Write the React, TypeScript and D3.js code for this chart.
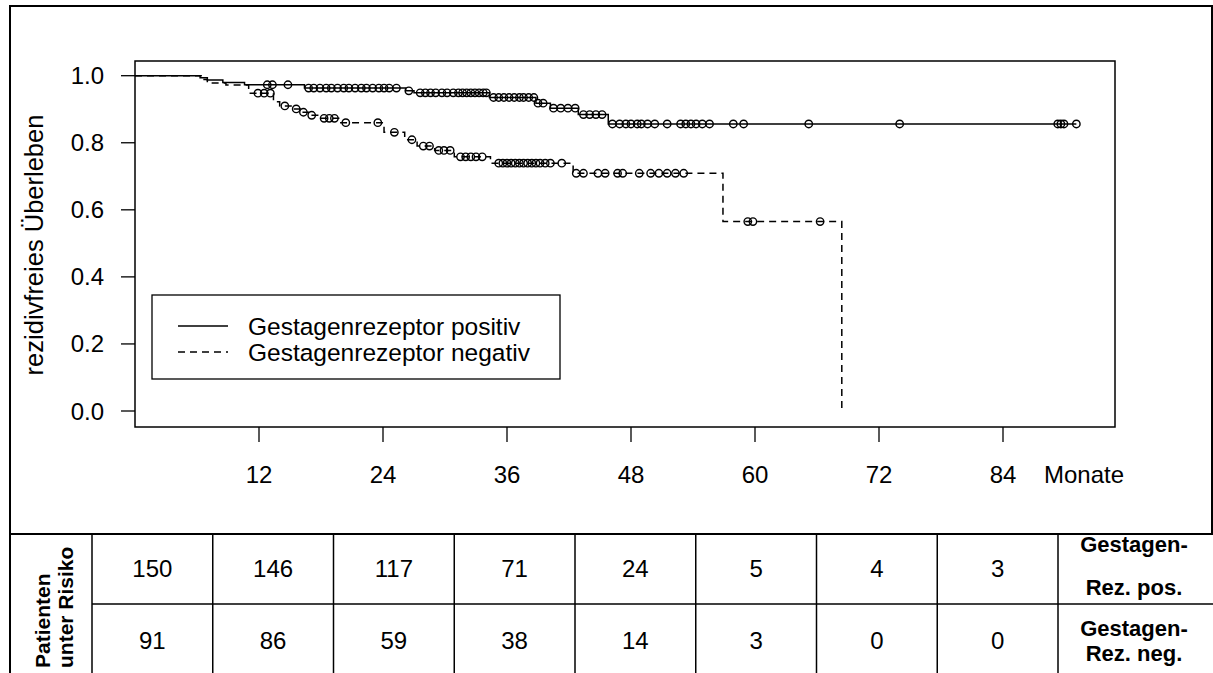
import React from 'react';
import * as d3 from 'd3';

// Kaplan-Meier steps: [months, survival after event]
const posEvents: [number, number][] = [
  [6.3, 0.994], [7.0, 0.987], [8.5, 0.98], [10.6, 0.973], [16.4, 0.963], [26.2, 0.955],
  [27.0, 0.949], [34.3, 0.935], [38.8, 0.918], [40.2, 0.903], [42.9, 0.884], [45.8, 0.856],
];
const posEnd = 91.1;
const posCensored = [
  12.8, 13.3, 14.8, 16.8, 17.3, 17.9, 18.5, 19.0, 19.6, 20.2, 20.7, 21.3, 21.9, 22.4, 23.0,
  23.6, 24.1, 24.6, 25.3, 26.5, 27.6, 28.1, 28.6, 29.1, 29.7, 30.2, 30.8, 31.3, 31.7, 32.1,
  32.5, 32.9, 33.3, 33.7, 34.0, 34.7, 35.2, 35.7, 36.2, 36.7, 37.2, 37.6, 38.1, 38.6, 39.0,
  39.5, 40.5, 41.2, 41.9, 42.6, 43.4, 44.0, 44.6, 45.2, 46.2, 46.9, 47.5, 48.0, 48.6, 49.0,
  49.6, 50.3, 51.5, 52.8, 53.3, 53.8, 54.3, 54.9, 55.6, 57.9, 58.9, 65.2, 74.0, 89.3, 89.6,
  89.9, 91.1,
];

const negEvents: [number, number][] = [
  [6.4, 0.989], [7.0, 0.978], [8.8, 0.972], [11.0, 0.948], [13.4, 0.922], [14.0, 0.91],
  [15.3, 0.901], [16.0, 0.891], [16.8, 0.882], [17.8, 0.873], [19.8, 0.86], [24.1, 0.831],
  [26.1, 0.809], [27.3, 0.79], [29.0, 0.777], [30.9, 0.758], [34.4, 0.739], [42.4, 0.709],
  [56.9, 0.565], [68.4, 0],
];
const negEnd = 68.4;
const negCensored = [
  11.9, 12.5, 13.1, 14.5, 15.6, 16.3, 17.1, 18.3, 18.8, 19.3, 20.4, 23.5, 25.1, 26.8, 27.9,
  28.5, 29.4, 29.9, 30.5, 31.5, 32.0, 32.5, 33.0, 33.6, 35.2, 35.6, 36.0, 36.4, 36.8, 37.2,
  37.6, 38.0, 38.4, 38.8, 39.2, 39.7, 40.2, 41.3, 42.7, 43.4, 44.8, 45.5, 46.7, 47.2, 48.8,
  49.9, 50.7, 51.5, 52.3, 53.1, 59.3, 59.8, 66.3,
];

const xTicks = [12, 24, 36, 48, 60, 72, 84];
const yTicks = [0, 0.2, 0.4, 0.6, 0.8, 1.0];
const atRiskPos = ['150', '146', '117', '71', '24', '5', '4', '3'];
const atRiskNeg = ['91', '86', '59', '38', '14', '3', '0', '0'];
const legendLabels = ['Gestagenrezeptor positiv', 'Gestagenrezeptor negativ'];

const FONT = '"Liberation Sans", Arial, sans-serif';

const survivalAt = (events: [number, number][], t: number) => {
  let s = 1;
  for (const [et, es] of events) if (et <= t) s = es;
  return s;
};

const App: React.FC = () => {
  const width = 1213;
  const height = 673;
  const box = { left: 135, top: 61, right: 1115, bottom: 427 };

  const x = d3.scaleLinear().domain([0, 12]).range([box.left, 259]);
  const y = d3.scaleLinear().domain([0, 1]).range([411, 75.7]);

  const line = d3.line<[number, number]>()
    .x(d => x(d[0]))
    .y(d => y(d[1]))
    .curve(d3.curveStepAfter);

  const posPts: [number, number][] = [[0, 1], ...posEvents, [posEnd, posEvents[posEvents.length - 1][1]]];
  const negPts: [number, number][] = [[0, 1], ...negEvents, [negEnd, 0]];

  // table columns
  const colLeft = 92;
  const colRight = 1058;
  const cols = d3.range(9).map(i => colLeft + (i * (colRight - colLeft)) / 8);
  const tTop = 534;
  const tMid = 604;

  return (
    <svg width={width} height={height} style={{ position: 'absolute', left: 0, top: 0, background: '#fff' }}
      fontFamily={FONT}>
      {/* outer frame */}
      <rect x={10} y={6} width={1202} height={528} fill="none" stroke="#000" strokeWidth={2} />

      {/* plot box */}
      <rect x={box.left} y={box.top} width={box.right - box.left} height={box.bottom - box.top}
        fill="none" stroke="#000" strokeWidth={1.5} />

      {/* y axis */}
      {yTicks.map(t => (
        <g key={t}>
          <line x1={box.left} x2={box.left - 14} y1={y(t)} y2={y(t)} stroke="#000" strokeWidth={1.3} />
          <text x={104} y={y(t) + 8.5} fontSize={24} textAnchor="end">{t.toFixed(1)}</text>
        </g>
      ))}
      <text transform="translate(43,245) rotate(-90)" fontSize={25.5} textAnchor="middle">rezidivfreies Überleben</text>

      {/* x axis */}
      {xTicks.map(t => (
        <g key={t}>
          <line x1={x(t)} x2={x(t)} y1={box.bottom} y2={box.bottom + 15} stroke="#000" strokeWidth={1.3} />
          <text x={x(t)} y={483} fontSize={24} textAnchor="middle">{t}</text>
        </g>
      ))}
      <text x={1044} y={483} fontSize={24}>Monate</text>

      {/* curves */}
      <path d={line(posPts) || ''} fill="none" stroke="#000" strokeWidth={1.5} />
      <path d={line(negPts) || ''} fill="none" stroke="#000" strokeWidth={1.5} strokeDasharray="7,5" />

      {posCensored.map((t, i) => (
        <circle key={'p' + i} cx={x(t)} cy={y(survivalAt(posEvents, t))} r={3.7}
          fill="none" stroke="#000" strokeWidth={1.4} />
      ))}
      {negCensored.map((t, i) => (
        <circle key={'n' + i} cx={x(t)} cy={y(survivalAt(negEvents, t))} r={3.7}
          fill="none" stroke="#000" strokeWidth={1.4} />
      ))}

      {/* legend */}
      <rect x={152} y={295} width={408} height={84} fill="#fff" stroke="#000" strokeWidth={1.3} />
      <line x1={178} x2={228} y1={326} y2={326} stroke="#000" strokeWidth={1.5} />
      <line x1={178} x2={228} y1={352} y2={352} stroke="#000" strokeWidth={1.5} strokeDasharray="7,5" />
      <text x={248} y={335} fontSize={24.5}>{legendLabels[0]}</text>
      <text x={248} y={361} fontSize={24.5}>{legendLabels[1]}</text>

      {/* risk table */}
      <line x1={10} x2={10} y1={tTop} y2={height} stroke="#000" strokeWidth={2} />
      <line x1={9} x2={width} y1={tTop} y2={tTop} stroke="#000" strokeWidth={2} />
      <line x1={colLeft} x2={width} y1={tMid} y2={tMid} stroke="#000" strokeWidth={1.5} />
      {cols.map((c, i) => (
        <line key={i} x1={c} x2={c} y1={tTop} y2={height} stroke="#000" strokeWidth={1.5} />
      ))}
      {atRiskPos.map((v, i) => (
        <text key={'rp' + i} x={(cols[i] + cols[i + 1]) / 2} y={577} fontSize={24} textAnchor="middle">{v}</text>
      ))}
      {atRiskNeg.map((v, i) => (
        <text key={'rn' + i} x={(cols[i] + cols[i + 1]) / 2} y={649} fontSize={24} textAnchor="middle">{v}</text>
      ))}
      <text transform="translate(50,668) rotate(-90)" fontSize={21} fontWeight="bold">Patienten</text>
      <text transform="translate(73,668) rotate(-90)" fontSize={21} fontWeight="bold">unter Risiko</text>

      <text x={1134} y={552} fontSize={22} fontWeight="bold" textAnchor="middle">Gestagen-</text>
      <text x={1134} y={595} fontSize={22} fontWeight="bold" textAnchor="middle">Rez. pos.</text>
      <text x={1134} y={636} fontSize={22} fontWeight="bold" textAnchor="middle">Gestagen-</text>
      <text x={1134} y={661} fontSize={22} fontWeight="bold" textAnchor="middle">Rez. neg.</text>
    </svg>
  );
};

export default App;
